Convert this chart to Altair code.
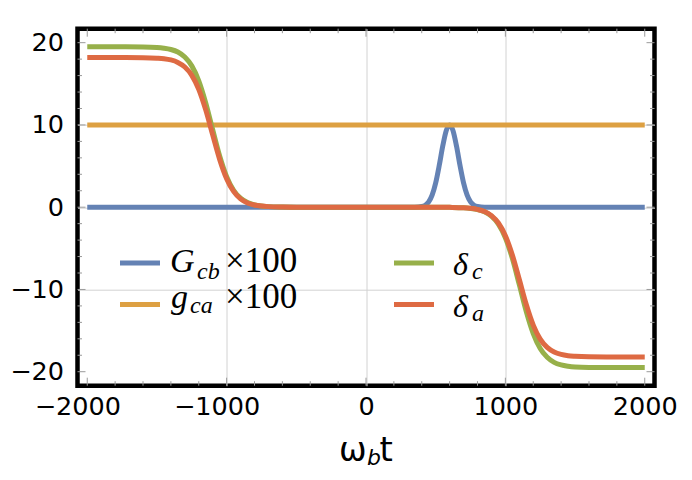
import altair as alt
import pandas as pd

# ---- data ----
x_delta = [-2000, -1800, -1600, -1500, -1450, -1400, -1350, -1300, -1250, -1200, -1150,
           -1100, -1050, -1000, -950, -900, -850, -800, -750, -700, -600, -500, -400,
           0,
           400, 500, 600, 700, 750, 800, 850, 900, 950, 1000, 1050, 1100, 1150,
           1200, 1250, 1300, 1350, 1400, 1450, 1500, 1600, 1800, 2000]
delta_c = [19.5, 19.5, 19.48, 19.42, 19.33, 19.17, 18.86, 18.25, 17.18, 15.36, 12.68,
           9.42, 6.22, 3.71, 2.06, 1.09, 0.56, 0.29, 0.15, 0.07, 0.02, 0.0, 0.0,
           0.0,
           0.0, 0.0, -0.02, -0.07, -0.15, -0.29, -0.56, -1.09, -2.06, -3.71, -6.22, -9.42, -12.68,
           -15.36, -17.18, -18.25, -18.86, -19.17, -19.33, -19.42, -19.48, -19.5, -19.5]
delta_a = [18.2, 18.2, 18.18, 18.12, 18.05, 17.9, 17.6, 17.04, 16.03, 14.33, 11.83,
           8.79, 5.81, 3.46, 1.92, 1.02, 0.52, 0.27, 0.14, 0.07, 0.02, 0.0, 0.0,
           0.0,
           0.0, 0.0, -0.02, -0.07, -0.14, -0.27, -0.52, -1.02, -1.92, -3.46, -5.81, -8.79, -11.83,
           -14.33, -16.03, -17.04, -17.6, -17.9, -18.05, -18.12, -18.18, -18.2, -18.2]
x_G = [-2000, 350, 400, 425, 450, 475, 500, 525, 550, 575, 600, 625, 650, 675, 700,
       725, 750, 775, 800, 850, 2000]
G_cb = [0.0, 0.0, 0.08, 0.24, 0.64, 1.49, 2.95, 5.03, 7.37, 9.27, 10.0, 9.27, 7.37, 5.03,
        2.95, 1.49, 0.64, 0.24, 0.08, 0.0, 0.0]
x_g = [-2000, 2000]
g_ca = [10.0, 10.0]

x_major = [-2000, -1000, 0, 1000, 2000]
x_minor = [-1800, -1600, -1400, -1200, -800, -600, -400, -200,
           200, 400, 600, 800, 1200, 1400, 1600, 1800]
y_major = [-20, -10, 0, 10, 20]
y_minor = [-18, -16, -14, -12, -8, -6, -4, -2, 2, 4, 6, 8, 12, 14, 16, 18]

C_BLUE, C_ORANGE, C_GREEN, C_RED = "#6482B4", "#DDA042", "#97B04A", "#DE6A43"

W, H = 577, 357
xs = alt.Scale(domain=[-2070, 2070], nice=False, zero=False)
ys = alt.Scale(domain=[-21.7, 21.7], nice=False, zero=False)

TICK_FONT = "DejaVu Sans"
TICK_SIZE = 25.5

x_axis = alt.Axis(
    values=x_major, format="d", title=None, domain=False, ticks=False, tickSize=0,
    labelFont=TICK_FONT, labelFontSize=TICK_SIZE, labelColor="black", labelPadding=9,
    labelFlush=False, labelOverlap=False,
    labelOffset={"condition": {"test": "datum.value < 0", "value": -10}, "value": 0},
    grid=True, gridColor="#d2d2d2", gridWidth=1,
    gridOpacity={"condition": {"test": "abs(datum.value) == 2000", "value": 0}, "value": 1},
)
y_axis = alt.Axis(
    values=y_major, format="d", title=None, domain=False, ticks=False, tickSize=0,
    labelFont=TICK_FONT, labelFontSize=TICK_SIZE, labelColor="black", labelPadding=14,
    labelFlush=False, labelOverlap=False,
    grid=True, gridColor="#d2d2d2", gridWidth=1,
    gridOpacity={"condition": {"test": "abs(datum.value) == 20", "value": 0}, "value": 1},
)


def series(xv, yv, color):
    df = pd.DataFrame({"x": xv, "y": yv})
    return alt.Chart(df).mark_line(
        color=color, strokeWidth=5, interpolate="monotone", strokeCap="butt"
    ).encode(
        x=alt.X("x:Q", scale=xs, axis=x_axis),
        y=alt.Y("y:Q", scale=ys, axis=y_axis),
    )


def xticks(vals, length):
    df = pd.DataFrame({"x": vals})
    base = alt.Chart(df).mark_rule(color="#9a9a9a", strokeWidth=1)
    bottom = base.encode(x=alt.X("x:Q", scale=xs, axis=x_axis), y=alt.value(H), y2=alt.value(H - length))
    top = base.encode(x=alt.X("x:Q", scale=xs, axis=x_axis), y=alt.value(0), y2=alt.value(length))
    return [bottom, top]


def yticks(vals, length):
    df = pd.DataFrame({"y": vals})
    base = alt.Chart(df).mark_rule(color="#9a9a9a", strokeWidth=1)
    left = base.encode(y=alt.Y("y:Q", scale=ys, axis=y_axis), x=alt.value(0), x2=alt.value(length))
    right = base.encode(y=alt.Y("y:Q", scale=ys, axis=y_axis), x=alt.value(W), x2=alt.value(W - length))
    return [left, right]


def txt(s, px, py, size, font="Liberation Serif", style="normal"):
    return alt.Chart(alt.Data(values=[{"t": s}])).mark_text(
        text=s, align="left", baseline="alphabetic", font=font, fontSize=size,
        fontStyle=style, color="black"
    ).encode(x=alt.value(px), y=alt.value(py))


def swatch(color, x1, x2, y):
    return alt.Chart(alt.Data(values=[{"k": 1}])).mark_rule(
        color=color, strokeWidth=5, strokeCap="butt"
    ).encode(x=alt.value(x1), x2=alt.value(x2), y=alt.value(y))


layers = [
    series(x_G, G_cb, C_BLUE),
    series(x_g, g_ca, C_ORANGE),
    series(x_delta, delta_c, C_GREEN),
    series(x_delta, delta_a, C_RED),
]
layers += xticks(x_major, 8) + xticks(x_minor, 4.5)
layers += yticks(y_major, 8) + yticks(y_minor, 4.5)

# legend (left column)
layers += [
    swatch(C_BLUE, 42.5, 82.5, 234.3),
    txt("G", 92.5, 243.3, 34, style="italic"),
    txt("cb", 119.5, 250.3, 24, style="italic"),
    txt("×100", 147.5, 243.3, 35),
    swatch(C_ORANGE, 42.5, 82.5, 275.8),
    txt("g", 93.5, 279.3, 34, style="italic"),
    txt("ca", 112.5, 284.3, 24, style="italic"),
    txt("×100", 147.5, 279.3, 35),
]
# legend (right column)
layers += [
    swatch(C_GREEN, 316.5, 356.5, 234.3),
    txt("δ", 375.5, 246.3, 32, style="italic"),
    txt("c", 394.5, 250.3, 24, style="italic"),
    swatch(C_RED, 316.5, 356.5, 275.8),
    txt("δ", 375.5, 288.3, 32, style="italic"),
    txt("a", 394.5, 292.3, 24, style="italic"),
]
# x-axis title  omega_b t
layers += [
    txt("ω", 261.5, 432, 33, font="DejaVu Sans"),
    txt("b", 289.5, 436.5, 22, font="DejaVu Sans", style="italic"),
    txt("t", 302, 432, 34, font="DejaVu Sans"),
]

chart = alt.layer(*layers).properties(
    width=W, height=H,
    autosize=alt.AutoSizeParams(type="none"),
    padding={"left": 69.5, "top": 20.7, "right": 29.5, "bottom": 86.3},
).configure_view(stroke="black", strokeWidth=4.5)

chart.save("out.html", embed_options={"renderer": "svg", "actions": False})
